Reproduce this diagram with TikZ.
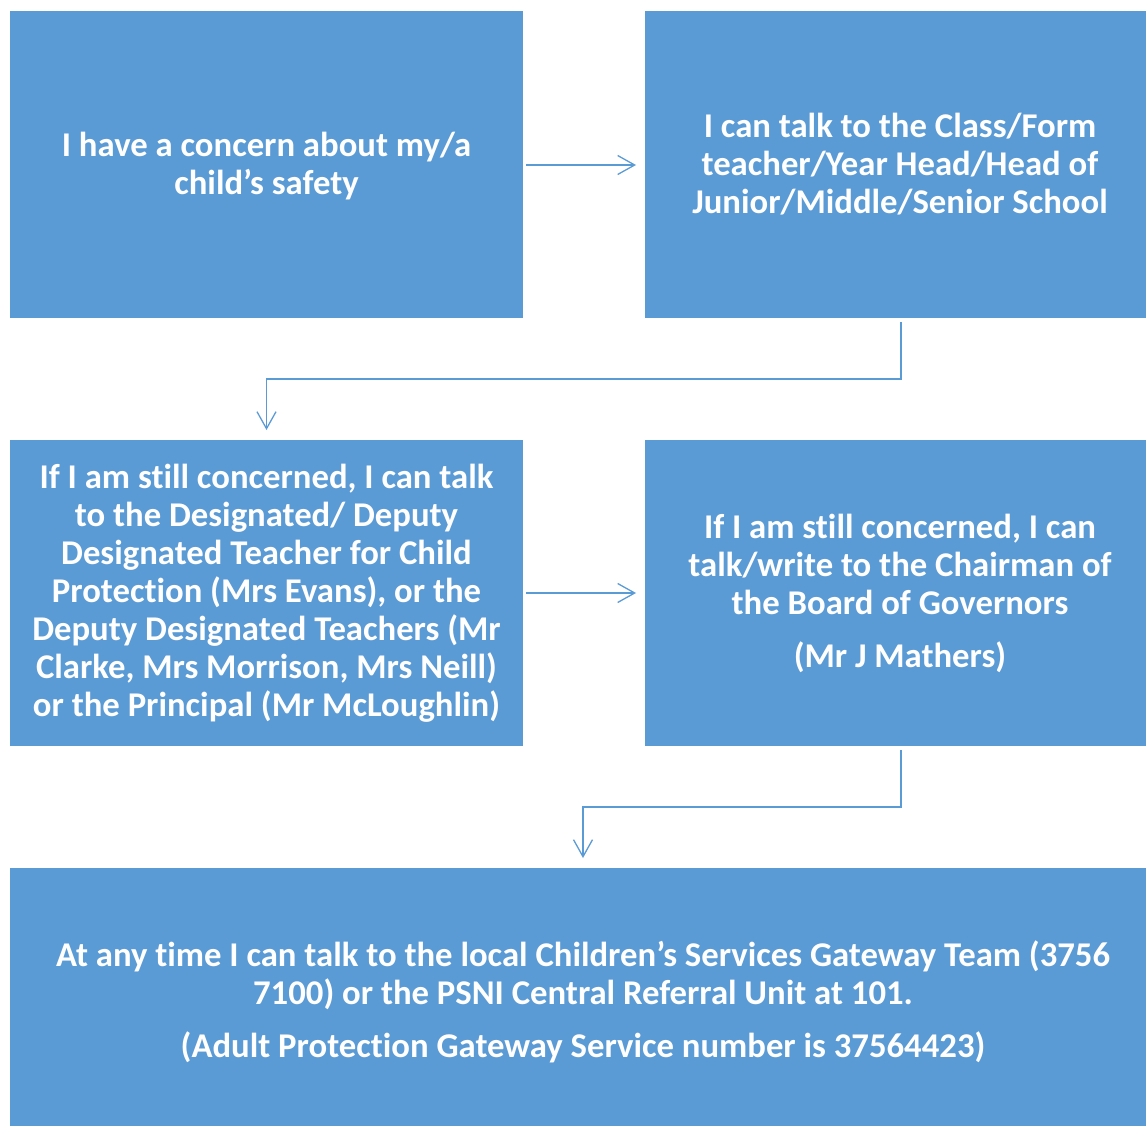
\documentclass[tikz,border=0pt]{standalone}
\usepackage{fontspec}
\setmainfont[Ligatures=NoCommon]{Carlito}
\usetikzlibrary{arrows.meta}
\definecolor{boxblue}{HTML}{5B9BD5}
\tikzset{
  flowbox/.style={fill=boxblue, draw=none, text=white, font=\bfseries\fontsize{34.7}{38}\selectfont, align=center, inner sep=0pt},
  conn/.style={draw=boxblue, line width=1.3pt, -{Straight Barb[length=17pt,width=19pt,line width=1.3pt]}}
}
\begin{document}
\begin{tikzpicture}[x=1pt,y=-1pt]
\useasboundingbox (0,0) rectangle (1146,1126);
\fill[boxblue] (10,11) rectangle (523,318);
\node[flowbox] (b1) at (266.5,166) {I have a concern about my/a\\child’s safety};
\fill[boxblue] (645,11) rectangle (1146,318);
\node[flowbox] (b2) at (900,164) {I can talk to the Class/Form\\teacher/Year Head/Head of\\Junior/Middle/Senior School};
\fill[boxblue] (10,440) rectangle (523,746);
\node[flowbox] (b3) at (266.5,593.5) {If I am still concerned, I can talk\\to the Designated/ Deputy\\Designated Teacher for Child\\Protection (Mrs Evans), or the\\Deputy Designated Teachers (Mr\\Clarke, Mrs Morrison, Mrs Neill)\\or the Principal (Mr McLoughlin)};
\fill[boxblue] (645,440) rectangle (1146,746);
\node[flowbox] (b4) at (900,593) {If I am still concerned, I can\\talk/write to the Chairman of\\the Board of Governors\\[15pt](Mr J Mathers)};
\fill[boxblue] (10,868) rectangle (1146,1126);
\node[flowbox] (b5) at (583,1002) {At any time I can talk to the local Children’s Services Gateway Team (3756\\7100) or the PSNI Central Referral Unit at 101.\\[15pt](Adult Protection Gateway Service number is 37564423)};
\coordinate (a1s) at (526,165);
\coordinate (a1e) at (636,165);
\draw[conn] (a1s) -- (a1e);
\coordinate (a2s) at (901,322);
\coordinate (a2e) at (266.5,430);
\draw[conn] (a2s) |- (583,379) -| (a2e);
\coordinate (a3s) at (526,593);
\coordinate (a3e) at (636,593);
\draw[conn] (a3s) -- (a3e);
\coordinate (a4s) at (901,750);
\coordinate (a4e) at (583,858);
\draw[conn] (a4s) |- (742,807) -| (a4e);
\end{tikzpicture}
\end{document}
